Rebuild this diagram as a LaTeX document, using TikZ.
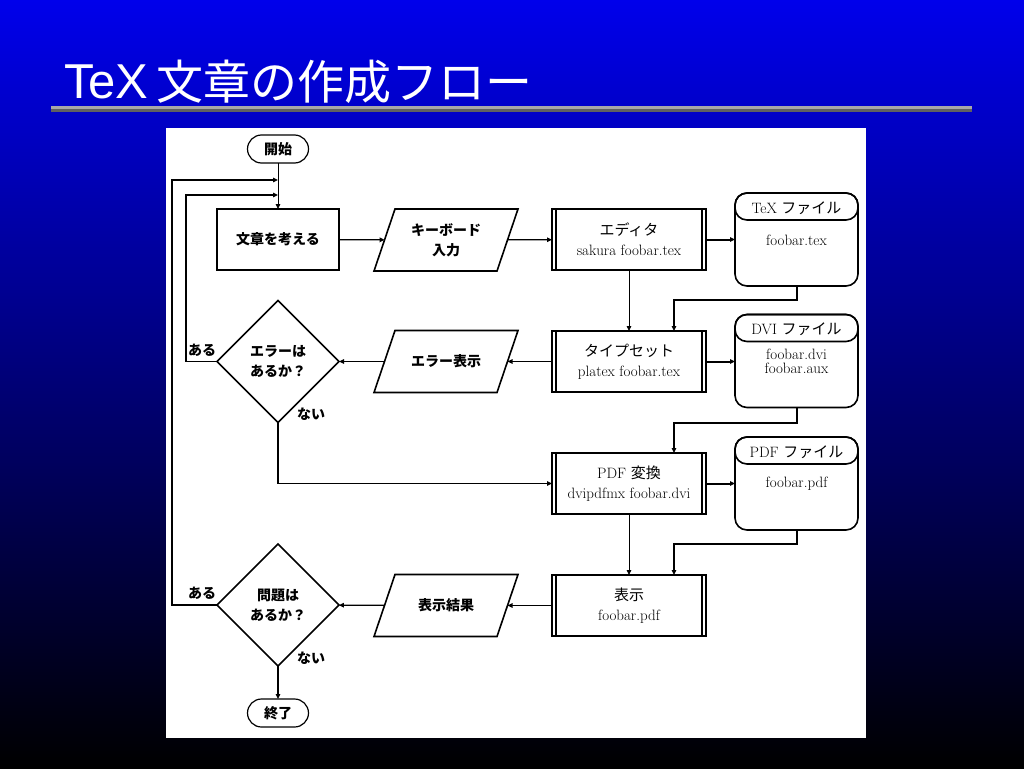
\documentclass[tikz,border=0pt]{standalone}
\usepackage{fontspec}
\newfontfamily\jp{Noto Sans CJK JP}
\newfontfamily\titlefont{Liberation Sans}
\usetikzlibrary{shapes.geometric,arrows.meta}
\definecolor{bgblue}{RGB}{0,0,235}
\definecolor{rulelight}{RGB}{168,168,168}
\definecolor{ruledark}{RGB}{96,96,96}
\begin{document}
\begin{tikzpicture}[x=1pt,y=-1pt,
  every node/.style={inner sep=0pt, outer sep=0pt, align=center, font=\fontsize{15}{20}\selectfont},
  jb/.style={font=\fontsize{14}{20}\selectfont\jp\bfseries},
  border/.style={line width=1.6pt},
  box/.style={draw, border, minimum width=122pt, minimum height=61pt},
  pbox/.style={draw, border, minimum width=154pt, minimum height=61pt,
    path picture={\draw[line width=1.2pt]
      ([xshift=4pt]path picture bounding box.north west) -- ([xshift=4pt]path picture bounding box.south west)
      ([xshift=-4pt]path picture bounding box.north east) -- ([xshift=-4pt]path picture bounding box.south east);}},
  iobox/.style={minimum width=123pt, minimum height=62pt,
    append after command={\pgfextra{\draw[border]
      ([xshift=10.5pt]\tikzlastnode.north west) -- ([xshift=10.5pt]\tikzlastnode.north east) --
      ([xshift=-10.5pt]\tikzlastnode.south east) -- ([xshift=-10.5pt]\tikzlastnode.south west) -- cycle;}}},
  decision/.style={draw, border, diamond, minimum width=122pt, minimum height=122pt, aspect=1},
  terminal/.style={draw, line width=1.2pt, rounded corners=14pt, minimum width=61pt, minimum height=28pt},
  filebox/.style={draw, border, rounded corners=12pt, minimum width=123pt, minimum height=93pt,
    append after command={\pgfextra{\draw[border, rounded corners=12pt]
      (\tikzlastnode.north west) rectangle ([yshift=-27pt]\tikzlastnode.north east);}}},
  conn/.style={line width=1.3pt, -{Triangle[length=5pt,width=4.5pt]}},
  thinconn/.style={conn, line width=0.9pt},
  dataconn/.style={conn, line width=2pt},
  filebody/.style={font=\fontsize{15}{14.5}\selectfont}
]
\useasboundingbox (0,0) rectangle (1024,768);
% background
\shade[top color=bgblue, bottom color=black] (0,0) rectangle (1024,768);
\node[anchor=base west, text=white, font=\titlefont\fontsize{49}{49}\selectfont] (tt) at (64,98) {TeX};
\node[anchor=base west, text=white, font=\jp\fontsize{47}{47}\selectfont] (tj) at (156,99) {文章の作成フロー};
\fill[rulelight] (51,106) rectangle (972,109);
\fill[ruledark] (51,109) rectangle (972,112);
\fill[white] (166,128) rectangle (866,738);

% nodes
\node[terminal, jb] (start) at (278,149) {開始};
\node[box, jb] (think) at (278,239.5) {文章を考える};
\node[iobox, jb] (kb) at (446,240) {キーボード\\入力};
\node[pbox] (edit) at (629,239.5) {{\jp エディタ}\\sakura foobar.tex};
\node[filebox] (texf) at (796.5,239.5) {};
\node (texfh) at ([yshift=-15pt]texf.north) {TeX {\jp ファイル}};
\node[filebody] (texfb) at ([yshift=-47pt]texf.north) {foobar.tex};

\node[decision, jb] (q1) at (278,361.5) {エラーは\\あるか？};
\node[iobox, jb] (err) at (446,361.5) {エラー表示};
\node[pbox] (type) at (629,361.5) {{\jp タイプセット}\\platex foobar.tex};
\node[filebox] (dvif) at (796.5,361) {};
\node (dvifh) at ([yshift=-15pt]dvif.north) {DVI {\jp ファイル}};
\node[filebody] (dvifb) at ([yshift=-47pt]dvif.north) {foobar.dvi\\foobar.aux};

\node[pbox] (pdfc) at (629,483.5) {PDF {\jp 変換}\\dvipdfmx foobar.dvi};
\node[filebox] (pdff) at (796.5,483.5) {};
\node (pdffh) at ([yshift=-15pt]pdff.north) {PDF {\jp ファイル}};
\node[filebody] (pdffb) at ([yshift=-47pt]pdff.north) {foobar.pdf};

\node[decision, jb] (q2) at (278,605) {問題は\\あるか？};
\node[iobox, jb] (res) at (446,605.5) {表示結果};
\node[pbox] (show) at (629,605.5) {{\jp 表示}\\foobar.pdf};
\node[terminal, jb] (stop) at (278,713) {終了};

\node[jb] (a1) at (202,350) {ある};
\node[jb] (n1) at (311,414) {ない};
\node[jb] (a2) at (202,593) {ある};
\node[jb] (n2) at (311,658) {ない};

\coordinate (j1) at (278,180);
\coordinate (j2) at (278,195);

% connectors
\draw[thinconn] (start) -- (think);
\draw[conn] (q2.west) -- ++(-45,0) |- (j1);
\draw[conn] (q1.west) -- ++(-31,0) |- (j2);
\draw[conn] (think) -- (kb);
\draw[conn] (kb) -- (edit);
\draw[dataconn] (edit) -- (texf);
\draw[thinconn] (edit) -- (type);
\draw[dataconn] (texf.south) -- ++(0,14) -| ([xshift=45pt]type.north);
\draw[conn] (type) -- (err);
\draw[conn] (err) -- (q1);
\draw[dataconn] (type) -- (dvif.west |- type.east);
\draw[dataconn] (dvif.south) -- ++(0,15) -| ([xshift=45pt]pdfc.north);
\draw[conn] (q1.south) |- (pdfc.west);
\draw[dataconn] (pdfc) -- (pdff);
\draw[thinconn] (pdfc) -- (show);
\draw[dataconn] (pdff.south) -- ++(0,14) -| ([xshift=45pt]show.north);
\draw[conn] (show) -- (res);
\draw[conn] (res) -- (q2);
\draw[conn] (q2) -- (stop);
\end{tikzpicture}
\end{document}
